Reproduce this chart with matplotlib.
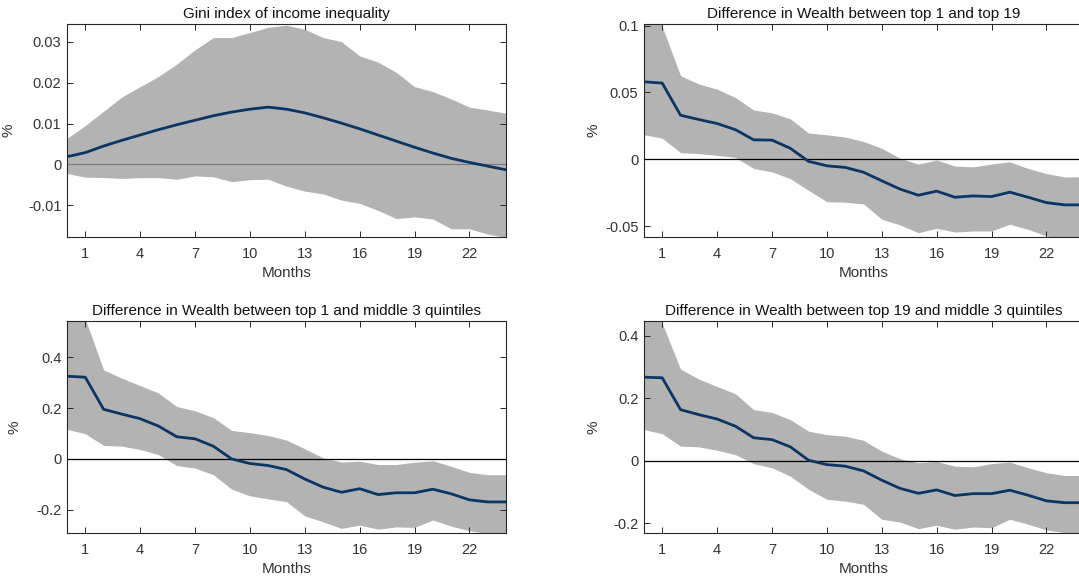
import matplotlib
matplotlib.use("Agg")
import matplotlib.pyplot as plt
from matplotlib.ticker import FuncFormatter
import numpy as np

plt.rcParams['font.family'] = ['Liberation Sans', 'DejaVu Sans']
plt.rcParams['axes.unicode_minus'] = False

months = list(range(25))
xticks = [1, 4, 7, 10, 13, 16, 19, 22]

# Gini index of income inequality
gini_mid = [0.0019, 0.0029, 0.0045, 0.0059, 0.0072, 0.0085, 0.0097, 0.0108, 0.0119, 0.0128,
            0.0135, 0.0140, 0.0135, 0.0126, 0.0114, 0.0101, 0.0087, 0.0072, 0.0057, 0.0042,
            0.0028, 0.0015, 0.0005, -0.0004, -0.0013]
gini_hi = [0.0064, 0.0095, 0.0130, 0.0165, 0.0190, 0.0215, 0.0245, 0.0280, 0.0310, 0.0310,
           0.0322, 0.0335, 0.0340, 0.0330, 0.0310, 0.0300, 0.0265, 0.0250, 0.0225, 0.0190,
           0.0178, 0.0160, 0.0140, 0.0133, 0.0125]
gini_lo = [-0.0022, -0.0031, -0.0032, -0.0034, -0.0032, -0.0032, -0.0036, -0.0028, -0.0030, -0.0042,
           -0.0037, -0.0036, -0.0053, -0.0065, -0.0072, -0.0087, -0.0095, -0.0112, -0.0132, -0.0128,
           -0.0133, -0.0157, -0.0157, -0.0170, -0.0178]

# top 1 vs top 19
t1_t19_mid = [0.0580, 0.0570, 0.0330, 0.0298, 0.0268, 0.0222, 0.0146, 0.0144, 0.0083, -0.0015,
              -0.0048, -0.0060, -0.0096, -0.0160, -0.0222, -0.0268, -0.0237, -0.0283, -0.0273, -0.0278,
              -0.0245, -0.0283, -0.0323, -0.0340, -0.0340]
t1_t19_hi = [0.1180, 0.0992, 0.0626, 0.0563, 0.0525, 0.0462, 0.0369, 0.0348, 0.0303, 0.0197,
             0.0184, 0.0167, 0.0134, 0.0083, 0.0008, -0.0035, -0.0005, -0.0050, -0.0056, -0.0035,
             -0.0018, -0.0068, -0.0106, -0.0131, -0.0130]
t1_t19_lo = [0.0184, 0.0159, 0.0050, 0.0043, 0.0030, 0.0015, -0.0068, -0.0093, -0.0144, -0.0232,
             -0.0316, -0.0320, -0.0333, -0.0447, -0.0490, -0.0548, -0.0515, -0.0543, -0.0535, -0.0535,
             -0.0485, -0.0523, -0.0573, -0.0590, -0.0600]

# top 1 vs middle 3 quintiles
t1_mid_mid = [0.325, 0.321, 0.195, 0.176, 0.158, 0.129, 0.087, 0.079, 0.050, 0.000,
              -0.018, -0.026, -0.042, -0.079, -0.111, -0.131, -0.117, -0.140, -0.133, -0.133,
              -0.119, -0.137, -0.161, -0.169, -0.169]
t1_mid_hi = [0.620, 0.550, 0.350, 0.317, 0.288, 0.259, 0.206, 0.189, 0.162, 0.112,
             0.103, 0.092, 0.074, 0.040, 0.004, -0.012, -0.009, -0.022, -0.022, -0.013,
             -0.007, -0.029, -0.053, -0.062, -0.062]
t1_mid_lo = [0.116, 0.099, 0.053, 0.050, 0.037, 0.017, -0.026, -0.036, -0.062, -0.119,
             -0.145, -0.157, -0.168, -0.224, -0.247, -0.273, -0.260, -0.276, -0.267, -0.269,
             -0.240, -0.264, -0.282, -0.293, -0.300]

# top 19 vs middle 3 quintiles
t19_mid_mid = [0.268, 0.266, 0.164, 0.148, 0.134, 0.111, 0.074, 0.068, 0.045, 0.002,
               -0.012, -0.017, -0.032, -0.062, -0.088, -0.104, -0.093, -0.111, -0.105, -0.105,
               -0.094, -0.110, -0.128, -0.134, -0.134]
t19_mid_hi = [0.520, 0.440, 0.294, 0.262, 0.238, 0.215, 0.164, 0.155, 0.132, 0.095,
              0.084, 0.079, 0.066, 0.031, 0.007, -0.006, -0.002, -0.017, -0.019, -0.009,
              -0.004, -0.022, -0.038, -0.047, -0.047]
t19_mid_lo = [0.100, 0.087, 0.047, 0.045, 0.034, 0.020, -0.009, -0.022, -0.049, -0.091,
              -0.123, -0.129, -0.139, -0.187, -0.196, -0.217, -0.206, -0.219, -0.212, -0.214,
              -0.187, -0.203, -0.221, -0.230, -0.235]

titles = ["Gini index of income inequality",
          "Difference in Wealth between top 1 and top 19",
          "Difference in Wealth between top 1 and middle 3 quintiles",
          "Difference in Wealth between top 19 and middle 3 quintiles"]

panels = [
    (gini_mid, gini_lo, gini_hi, (-0.0177, 0.0343), [-0.01, 0, 0.01, 0.02, 0.03], '#808080'),
    (t1_t19_mid, t1_t19_lo, t1_t19_hi, (-0.058, 0.1012), [-0.05, 0, 0.05, 0.1], '#000000'),
    (t1_mid_mid, t1_mid_lo, t1_mid_hi, (-0.291, 0.542), [-0.2, 0, 0.2, 0.4], '#000000'),
    (t19_mid_mid, t19_mid_lo, t19_mid_hi, (-0.231, 0.448), [-0.2, 0, 0.2, 0.4], '#000000'),
]

# axes rectangles in figure fractions (left, bottom, width, height);
# the right column runs a little past the figure edge
rects = [
    (0.0621, 0.5928, 0.4069, 0.3660),
    (0.5968, 0.5928, 0.4069, 0.3660),
    (0.0621, 0.0842, 0.4069, 0.3643),
    (0.5968, 0.0842, 0.4069, 0.3643),
]
ylab_x = [-0.118, -0.10, -0.103, -0.10]

band_color = '#b3b3b3'
line_color = '#0b3563'
axis_color = '#262626'

fig = plt.figure(figsize=(10.79, 5.82), dpi=100)

for i, (mid, lo, hi, ylim, yticks, zcol) in enumerate(panels):
    ax = fig.add_axes(rects[i])
    ax.fill_between(months, lo, hi, color=band_color, linewidth=0)
    ax.axhline(0, color=zcol, linewidth=0.9)
    ax.plot(months, mid, color=line_color, linewidth=2.0)

    ax.set_xlim(0, 24)
    ax.set_ylim(*ylim)
    ax.set_xticks(xticks)
    ax.set_yticks(yticks)
    ax.yaxis.set_major_formatter(FuncFormatter(lambda v, p: '%g' % v))

    ax.tick_params(direction='in', length=4, width=0.7, top=True, right=(i % 2 == 0),
                   labelsize=10.5, colors=axis_color, labelcolor='#333333')
    ax.tick_params(axis='x', pad=7)
    ax.tick_params(axis='y', pad=4)
    for s in ax.spines.values():
        s.set_color(axis_color)
        s.set_linewidth(0.8)

    ax.set_title(titles[i], fontsize=11, color='#111111', pad=4)
    ax.set_xlabel('Months', fontsize=11, color='#333333')
    ax.xaxis.set_label_coords(0.5, -0.135)
    ax.set_ylabel('%', fontsize=11, color='#333333')
    ax.yaxis.set_label_coords(ylab_x[i], 0.5)

fig.savefig('out.png', dpi=100)
